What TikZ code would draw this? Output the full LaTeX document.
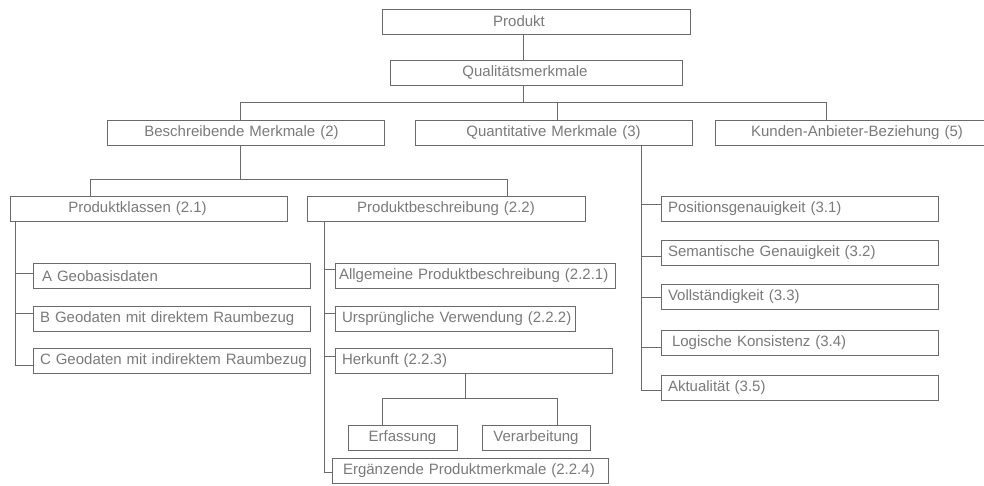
\documentclass[tikz,border=0pt]{standalone}
\usepackage{fontspec}
\setmainfont{Liberation Sans}
\definecolor{linec}{HTML}{6A6A6A}
\definecolor{txtc}{HTML}{7A7A7A}
\begin{document}
\begin{tikzpicture}[x=1pt,y=-1pt,
  box/.style={draw=linec, line width=0.8pt, minimum height=25pt,
    inner ysep=0pt, font=\fontsize{15}{17}\selectfont, text=txtc},
  cbox/.style={box, inner xsep=0pt, text width=#1, align=center},
  lbox/.style={box, inner xsep=7pt, text width=#1, align=left},
  wire/.style={draw=linec, line width=0.8pt}]
\clip (0,0) rectangle (984,485);
\fill[white] (0,0) rectangle (984,485);

% top of the hierarchy
\node[cbox=308pt] (prod)  at (536,21.5)   {\mbox{\hspace*{-34pt}Produkt}};
\node[cbox=292pt] (qual)  at (536,72.5)   {\mbox{\hspace*{-22pt}Qualitätsmerkmale}};

% main groups
\node[cbox=277pt] (besch) at (245.5,132.5) {\mbox{\hspace*{-8pt}Beschreibende Merkmale (2)}};
\node[cbox=277pt] (quant) at (553.5,132.5) {\mbox{Quantitative Merkmale (3)}};
\node[cbox=273pt] (kund)  at (851.5,132.5) {\mbox{\hspace*{11pt}Kunden-Anbieter-Beziehung (5)}};

% descriptive features
\node[cbox=277pt] (pk) at (148.5,208.5) {\mbox{\hspace*{-22pt}Produktklassen (2.1)}};
\node[cbox=278pt] (pb) at (446,208.5)   {\mbox{Produktbeschreibung (2.2)}};

\node[lbox=263pt] (ka) at (171.5,276)   {\mbox{\hspace*{2pt}A Geobasisdaten}};
\node[lbox=263pt] (kb) at (171.5,318.5) {\mbox{B Geodaten mit direktem Raumbezug}};
\node[lbox=263pt] (kc) at (171.5,361)   {\mbox{C Geodaten mit indirektem Raumbezug}};

\node[lbox=266pt] (allg)  at (475,275.5)   {\mbox{\hspace*{-3pt}Allgemeine Produktbeschreibung (2.2.1)}};
\node[lbox=226pt] (urspr) at (455,318.5)   {\mbox{Ursprüngliche Verwendung (2.2.2)}};
\node[lbox=263pt] (herk)  at (473.5,361)   {\mbox{Herkunft (2.2.3)}};
\node[cbox=109pt] (erf)   at (402.5,437.5) {\mbox{Erfassung}};
\node[cbox=108pt] (verarb) at (536,437.5)  {\mbox{Verarbeitung}};
\node[lbox=262pt] (ergz)  at (470,470.5)   {\mbox{\hspace*{4pt}Ergänzende Produktmerkmale (2.2.4)}};

% quantitative features
\node[lbox=263pt] (pos)  at (799.5,208.5) {\mbox{Positionsgenauigkeit (3.1)}};
\node[lbox=263pt] (sem)  at (799.5,252.5) {\mbox{Semantische Genauigkeit (3.2)}};
\node[lbox=263pt] (voll) at (799.5,297)   {\mbox{Vollständigkeit (3.3)}};
\node[lbox=263pt] (logk) at (799.5,342.5) {\mbox{\hspace*{4pt}Logische Konsistenz (3.4)}};
\node[lbox=263pt] (akt)  at (799.5,387.5) {\mbox{Aktualität (3.5)}};

% junction points of the tree
\coordinate (bar1) at (523,102);
\coordinate (bar2) at (240,179);
\coordinate (bar3) at (465,398);

% connectors
\draw[wire] ([xshift=-13pt]prod.south) -- ([xshift=-13pt]qual.north);
\draw[wire] ([xshift=-13pt]qual.south) -- (bar1);
\draw[wire] ([xshift=-5.5pt]besch.north) |- (bar1);
\draw[wire] ([xshift=3.5pt]quant.north) |- (bar1);
\draw[wire] ([xshift=-25.5pt]kund.north) |- (bar1);

\draw[wire] ([xshift=-5.5pt]besch.south) -- (bar2);
\draw[wire] ([xshift=-58.5pt]pk.north) |- (bar2);
\draw[wire] ([xshift=61pt]pb.north) |- (bar2);

\draw[wire] ([xshift=-133.5pt]pk.south) |- ([yshift=3pt]ka.west);
\draw[wire] ([xshift=-133.5pt]pk.south) |- ([yshift=5.5pt]kb.west);
\draw[wire] ([xshift=-133.5pt]pk.south) |- ([yshift=-4pt]kc.west);

\draw[wire] ([xshift=-122pt]pb.south) |- ([yshift=6.5pt]allg.west);
\draw[wire] ([xshift=-122pt]pb.south) |- ([yshift=5.5pt]urspr.west);
\draw[wire] ([xshift=-122pt]pb.south) |- ([yshift=5pt]herk.west);
\draw[wire] ([xshift=-122pt]pb.south) |- ([yshift=-1.5pt]ergz.west);

\draw[wire] ([xshift=-8.5pt]herk.south) -- (bar3);
\draw[wire] ([xshift=-20.5pt]erf.north) |- (bar3);
\draw[wire] ([xshift=21pt]verarb.north) |- (bar3);

\draw[wire] ([xshift=87.5pt]quant.south) |- ([yshift=4.5pt]pos.west);
\draw[wire] ([xshift=87.5pt]quant.south) |- ([yshift=-3.5pt]sem.west);
\draw[wire] ([xshift=87.5pt]quant.south) |- (voll.west);
\draw[wire] ([xshift=87.5pt]quant.south) |- ([yshift=-4.5pt]logk.west);
\draw[wire] ([xshift=87.5pt]quant.south) |- ([yshift=-2.5pt]akt.west);
\end{tikzpicture}
\end{document}
